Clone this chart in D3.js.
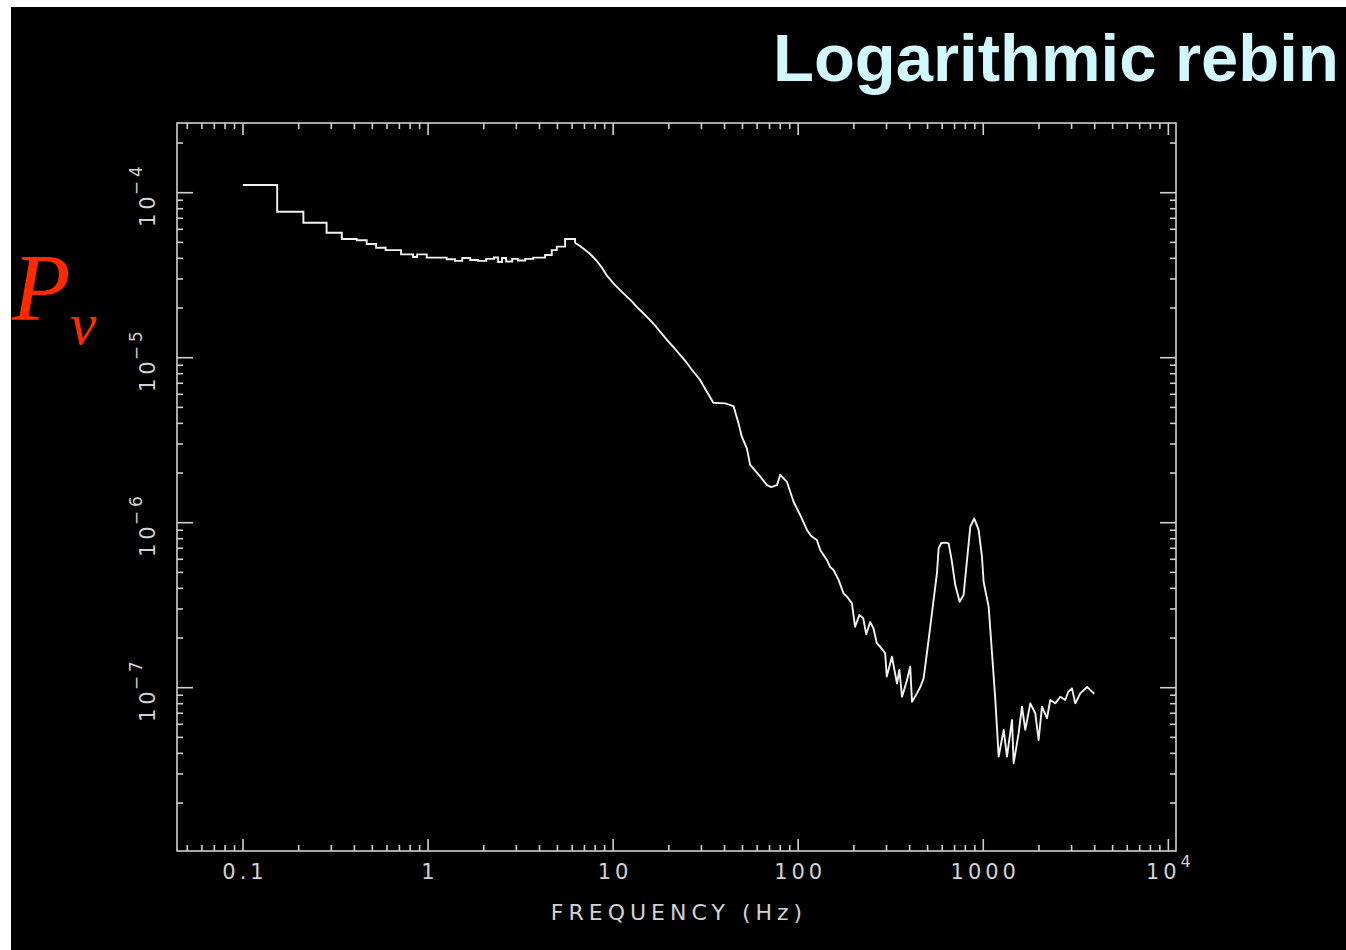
<!DOCTYPE html>
<html>
<head>
<meta charset="utf-8">
<script src="https://cdn.jsdelivr.net/npm/d3@7"></script>
<style>
  html, body { margin: 0; padding: 0; background: #fff; }
  svg { display: block; }
  .tick-label { font-family: "DejaVu Sans", sans-serif; font-size: 21px; fill: #d2d2d2; letter-spacing: 4px; }
</style>
</head>
<body>
<svg id="chart"></svg>
<script>
// log-rebinned power spectrum: frequency (Hz) and power
const freq = [0.1, 0.153, 0.212, 0.283, 0.342, 0.412, 0.466, 0.524, 0.59, 0.715, 0.83, 0.872, 0.984,
  1.26, 1.4, 1.53, 1.69, 1.86, 2.06, 2.27, 2.39, 2.51, 2.64, 2.85, 3.06, 3.35, 3.7, 4.29, 4.66, 4.96,
  5.5, 6.23, 6.63, 7.06, 7.51, 8.09, 8.72, 9.28, 10.1, 10.9, 11.75, 12.7, 13.6, 14.7, 15.85, 17.1,
  18.4, 19.8, 21.4, 23.0, 24.8, 26.7, 29.5, 32.1, 34.8, 40.3, 44.7, 47.6, 49.6, 52.8, 55.0, 62.4,
  67.8, 71.5, 76.8, 80.0, 86.9, 94.4, 102.6, 111.5, 117.5, 126.1, 131.5, 142.9, 148.9, 155.2, 165.2,
  175.8, 184, 195, 203, 214, 224.5, 233, 245, 255, 266, 281, 295, 301, 321, 342, 352, 364, 387, 403,
  412, 438, 457, 476, 496, 517, 539, 562, 574, 593, 623, 650, 677, 706, 745, 783, 817, 851, 894, 944,
  984, 1004, 1069, 1115, 1162, 1211, 1289, 1343, 1430, 1459, 1553, 1619, 1687, 1795, 1910, 1991,
  2076, 2209, 2302, 2450, 2607, 2774, 2878, 3015, 3142, 3343, 3637, 3871, 3980];
const power = [1.113e-4, 7.67e-5, 6.58e-5, 5.72e-5, 5.24e-5, 5.15e-5, 4.89e-5, 4.64e-5, 4.49e-5, 4.23e-5, 4.08e-5, 4.23e-5, 4.04e-5,
  3.95e-5, 3.86e-5, 4.02e-5, 3.91e-5, 3.86e-5, 3.97e-5, 4.05e-5, 3.8e-5, 4.02e-5, 3.83e-5, 3.97e-5, 3.88e-5, 3.97e-5, 4.04e-5, 4.19e-5, 4.49e-5, 4.71e-5,
  5.24e-5, 4.96e-5, 4.75e-5, 4.49e-5, 4.25e-5, 3.91e-5, 3.5e-5, 3.13e-5, 2.8e-5, 2.57e-5, 2.37e-5, 2.18e-5, 2.0e-5, 1.84e-5, 1.69e-5, 1.535e-5,
  1.39e-5, 1.26e-5, 1.145e-5, 1.04e-5, 9.42e-6, 8.42e-6, 7.33e-6, 6.22e-6, 5.33e-6, 5.29e-6, 5.09e-6, 4.0e-6, 3.32e-6, 2.82e-6, 2.24e-6, 1.9e-6,
  1.69e-6, 1.645e-6, 1.69e-6, 1.95e-6, 1.77e-6, 1.34e-6, 1.11e-6, 9.04e-7, 8.3e-7, 7.85e-7, 6.84e-7, 5.95e-7, 5.39e-7, 5.17e-7, 4.5e-7,
  3.73e-7, 3.55e-7, 3.25e-7, 2.34e-7, 2.76e-7, 2.64e-7, 2.11e-7, 2.5e-7, 2.29e-7, 1.86e-7, 1.74e-7, 1.62e-7, 1.17e-7, 1.54e-7, 1.06e-7, 1.28e-7, 8.81e-8, 1.11e-7, 1.34e-7,
  8.22e-8, 9.24e-8, 1.01e-7, 1.14e-7, 1.62e-7, 2.34e-7, 3.4e-7, 4.94e-7, 7.0e-7, 7.53e-7, 7.57e-7, 7.5e-7, 5.81e-7, 4.19e-7, 3.32e-7, 3.65e-7, 5.94e-7, 9.46e-7, 1.06e-6, 9.04e-7,
  6.22e-7, 4.39e-7, 3.1e-7, 1.62e-7, 8.42e-8, 3.82e-8, 5.55e-8, 3.82e-8, 6.38e-8, 3.48e-8, 5.3e-8, 7.67e-8, 5.55e-8, 8.04e-8, 7.0e-8, 4.82e-8,
  7.67e-8, 6.53e-8, 8.42e-8, 8.04e-8, 8.82e-8, 8.42e-8, 9.42e-8, 9.91e-8, 8.04e-8, 9.24e-8, 1.01e-7, 9.46e-8, 9.2e-8];
// below this frequency the wide bins show as clear steps
const stepUntil = 6.23;

const xMajor = [0.1, 1, 10, 100, 1000, 10000];
const xMajorLabels = [["0.1", ""], ["1", ""], ["10", ""], ["100", ""], ["1000", ""], ["10", "4"]];
const yMajor = [1e-4, 1e-5, 1e-6, 1e-7];
const yMajorLabels = [["10", "\u22124"], ["10", "\u22125"], ["10", "\u22126"], ["10", "\u22127"]];
const xTitle = "FREQUENCY (Hz)";
const title = "Logarithmic rebin";

const width = 1346;
const height = 950;
const frame = { left: 177, right: 1176, top: 123, bottom: 851 };

const svg = d3.select("#chart").attr("width", width).attr("height", height);

// slide background (white strip top/left like the screenshot)
svg.append("rect").attr("x", 11).attr("y", 7).attr("width", width - 11).attr("height", height - 7).attr("fill", "#000");

const xScale = d3.scaleLog().domain([0.044, 11000]).range([frame.left, frame.right]);
const yScale = d3.scaleLog().domain([1.024e-8, 2.645e-4]).range([frame.bottom, frame.top]);

const isMajor = (v) => Math.abs(Math.log10(v) - Math.round(Math.log10(v))) < 1e-9;

const axisColor = "#d0d0d0";
const g = svg.append("g");

// frame
g.append("rect")
  .attr("x", frame.left).attr("y", frame.top)
  .attr("width", frame.right - frame.left).attr("height", frame.bottom - frame.top)
  .attr("fill", "none").attr("stroke", axisColor).attr("stroke-width", 1.6);

// x ticks (bottom and top, pointing inward)
const xTicks = xScale.ticks().filter((v) => xScale(v) > frame.left + 1 && xScale(v) < frame.right - 1);
[frame.bottom, frame.top].forEach((base, i) => {
  const dir = i === 0 ? -1 : 1;
  g.selectAll(null)
    .data(xTicks)
    .enter()
    .append("line")
    .attr("x1", (d) => xScale(d)).attr("x2", (d) => xScale(d))
    .attr("y1", base)
    .attr("y2", (d) => base + dir * (isMajor(d) ? 12 : 6))
    .attr("stroke", axisColor).attr("stroke-width", 1.6);
});

// y ticks (left and right, pointing inward)
const yTicks = yScale.ticks().filter((v) => yScale(v) > frame.top + 1 && yScale(v) < frame.bottom - 1);
[frame.left, frame.right].forEach((base, i) => {
  const dir = i === 0 ? 1 : -1;
  g.selectAll(null)
    .data(yTicks)
    .enter()
    .append("line")
    .attr("y1", (d) => yScale(d)).attr("y2", (d) => yScale(d))
    .attr("x1", base)
    .attr("x2", (d) => base + dir * (isMajor(d) ? 16 : 6))
    .attr("stroke", axisColor).attr("stroke-width", 1.6);
});

// x tick labels
const xl = g.selectAll(".xl")
  .data(xMajor)
  .enter()
  .append("text")
  .attr("class", "tick-label")
  .attr("x", (d) => xScale(d) + 2)
  .attr("y", 879)
  .attr("text-anchor", "middle");
xl.append("tspan").text((d, i) => xMajorLabels[i][0]);
xl.append("tspan")
  .attr("dy", -12).attr("font-size", 16)
  .text((d, i) => xMajorLabels[i][1]);

// y tick labels (rotated)
const yl = g.selectAll(".yl")
  .data(yMajor)
  .enter()
  .append("text")
  .attr("class", "tick-label")
  .attr("text-anchor", "middle")
  .attr("transform", (d) => `translate(155,${yScale(d) + 2}) rotate(-90)`);
yl.append("tspan").text((d, i) => yMajorLabels[i][0]);
yl.append("tspan")
  .attr("dx", -3).attr("dy", -13).attr("font-size", 17)
  .text((d, i) => yMajorLabels[i][1]);

// x axis title
svg.append("text")
  .attr("class", "tick-label")
  .attr("x", 679).attr("y", 920)
  .attr("text-anchor", "middle")
  .style("font-size", "22px")
  .style("letter-spacing", "5px")
  .text(xTitle);

// spectrum: wide low-frequency bins as steps, the dense rest as a trace
const pts = freq.map((f, i) => [f, power[i]]);
const line = d3.line().x((d) => xScale(d[0])).y((d) => yScale(d[1]));
svg.append("path")
  .datum(pts.filter((d) => d[0] <= stepUntil))
  .attr("fill", "none")
  .attr("stroke", "#f2f2f2")
  .attr("stroke-width", 1.9)
  .attr("d", line.curve(d3.curveStepAfter));
svg.append("path")
  .datum(pts.filter((d) => d[0] >= stepUntil))
  .attr("fill", "none")
  .attr("stroke", "#f2f2f2")
  .attr("stroke-width", 1.9)
  .attr("stroke-linejoin", "round")
  .attr("d", line.curve(d3.curveLinear));

// slide title
svg.append("text")
  .attr("x", 773).attr("y", 81)
  .style("font-family", "'Liberation Sans', Arial, sans-serif")
  .style("font-weight", "bold")
  .style("font-size", "67px")
  .style("fill", "#d2f8ff")
  .text(title);

// P_nu label
svg.append("text")
  .attr("x", 12).attr("y", 320)
  .style("font-family", "'Liberation Serif', 'Times New Roman', serif")
  .style("font-style", "italic")
  .style("font-size", "96px")
  .style("fill", "#ff2a00")
  .text("P");
svg.append("text")
  .attr("x", 70).attr("y", 344)
  .style("font-family", "'Liberation Serif', 'Times New Roman', serif")
  .style("font-style", "italic")
  .style("font-size", "60px")
  .style("fill", "#ff2a00")
  .text("\u03bd");
</script>
</body>
</html>
